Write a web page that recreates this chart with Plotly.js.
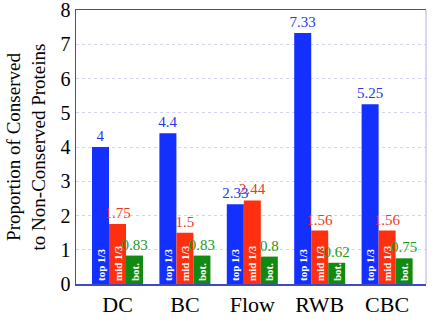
<!DOCTYPE html>
<html>
<head>
<meta charset="utf-8">
<script src="https://cdn.plot.ly/plotly-3.0.1.min.js"></script>
<style>html,body{margin:0;padding:0;background:#fff;}#chart{width:432px;height:324px;}</style>
</head>
<body>
<div id="chart"></div>
<script>
const categories = ["DC", "BC", "Flow", "RWB", "CBC"];
const topThird = [4, 4.4, 2.33, 7.33, 5.25];
const midThird = [1.75, 1.5, 2.44, 1.56, 1.56];
const bottomThird = [0.83, 0.83, 0.8, 0.62, 0.75];
const seriesLabels = ["top 1/3", "mid 1/3", "bot."];
const yTicks = [0, 1, 2, 3, 4, 5, 6, 7, 8];

const serif = "Liberation Serif";
const barColors = ["#1330ff", "#ff3010", "#128a12"];
const labelColors = ["#2438e8", "#e83a22", "#1a9a1a"];
const series = [topThird, midThird, bottomThird];

const traces = [];
series.forEach((vals, i) => {
  traces.push({
    type: "bar", x: categories, y: vals, name: seriesLabels[i],
    offsetgroup: String(i),
    marker: {color: barColors[i], line: {width: 0}},
    text: vals.map(() => seriesLabels[i]),
    textposition: "inside", insidetextanchor: "start", textangle: -90,
    constraintext: "none",
    insidetextfont: {family: serif, size: 11, color: "#ffffff", weight: "bold"},
    hoverinfo: "skip", showlegend: false
  });
  traces.push({
    type: "bar", x: categories, y: vals, name: seriesLabels[i] + " value",
    offsetgroup: String(i),
    marker: {color: "rgba(0,0,0,0)", line: {width: 0}},
    text: vals.map(v => String(v)),
    textposition: "outside", textangle: 0, cliponaxis: false,
    constraintext: "none",
    outsidetextfont: {family: serif, size: 15, color: labelColors[i]},
    hoverinfo: "skip", showlegend: false
  });
});

const layout = {
  width: 432, height: 324,
  margin: {l: 76, r: 6, t: 10, b: 40},
  paper_bgcolor: "#ffffff", plot_bgcolor: "#ffffff",
  barmode: "group", bargap: 0.243, bargroupgap: 0,
  showlegend: false,
  font: {family: serif, color: "#000"},
  xaxis: {
    type: "category", range: [-0.616, 4.577],
    showline: true, linecolor: "#3a4ac8", linewidth: 1.5, mirror: true,
    showgrid: false, ticks: "", tickfont: {family: serif, size: 22, color: "#000"},
    automargin: false
  },
  yaxis: {
    range: [0, 8], tickvals: yTicks, ticktext: yTicks.map(String),
    ticklabeloverflow: "allow",
    showline: true, linecolor: "#3a4ac8", linewidth: 1.5,
    showgrid: true, gridcolor: "#d4d4f0", griddash: "dot", gridwidth: 1,
    zeroline: false, ticks: "",
    tickfont: {family: serif, size: 20, color: "#000"},
    title: {text: "Proportion of Conserved<br>to Non-Conserved Proteins", font: {family: serif, size: 19, color: "#000"}, standoff: 10},
    automargin: false
  },
  shapes: [{type: "line", xref: "paper", yref: "paper", x0: 1, x1: 1, y0: 0, y1: 1, line: {color: "#c8c8f0", width: 1.5}}]
};

Plotly.newPlot("chart", traces, layout, {displayModeBar: false, staticPlot: true});
</script>
</body>
</html>
